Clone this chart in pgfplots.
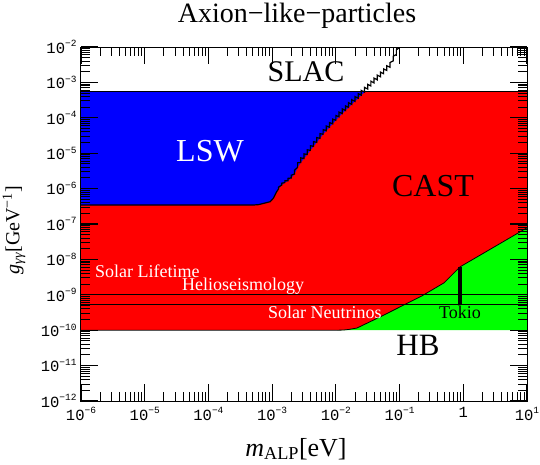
\documentclass[border=0pt]{standalone}
\usepackage{fontspec}
\setmainfont{Liberation Serif}
\newfontfamily\tickfont{Liberation Mono}
\usepackage{pgfplots}
\pgfplotsset{compat=1.18}
\newcommand{\tkl}[1]{{\fontsize{15.5}{15.5}\selectfont\tickfont 10\raisebox{6.5pt}{\fontsize{9.5}{9.5}\selectfont #1}}}
\definecolor{pr}{RGB}{255,0,0}
\definecolor{pb}{RGB}{0,0,255}
\definecolor{pg}{RGB}{0,255,0}
\begin{document}
\begin{tikzpicture}
\useasboundingbox (0pt,0pt) rectangle (540pt,464pt);
\begin{axis}[
  at={(81pt,63pt)}, anchor=south west,
  scale only axis, width=446pt, height=354pt,
  xmode=log, ymode=log,
  xmin=1e-6, xmax=10, ymin=1e-12, ymax=1e-2,
  axis on top,
  axis line style={line width=1pt},
  major tick style={line width=1.2pt, draw=black},
  minor tick style={line width=1pt, draw=black},
  major tick length=17pt, minor tick length=9pt,
  tick align=inside,
  xtick={1e-6,1e-5,1e-4,1e-3,1e-2,1e-1,1,10},
  xticklabels={\tkl{−6},\tkl{−5},\tkl{−4},\tkl{−3},\tkl{−2},\tkl{−1},{\fontsize{15.5}{15.5}\selectfont\tickfont 1},\tkl{1}},
  ytick={1e-12,1e-11,1e-10,1e-9,1e-8,1e-7,1e-6,1e-5,1e-4,1e-3,1e-2},
  yticklabels={\tkl{−12},\tkl{−11},\tkl{−10},\tkl{−9},\tkl{−8},\tkl{−7},\tkl{−6},\tkl{−5},\tkl{−4},\tkl{−3},\tkl{−2}},
  xticklabel style={yshift=-3pt},
  yticklabel style={xshift=-1pt},
]
% CAST
\addplot[draw=none, fill=pr] coordinates {(1e-6,1e-10) (10,1e-10) (10,5.71e-4) (1e-6,5.71e-4)} -- cycle;
% green region
\addplot[draw=none, fill=pg] coordinates {(1.047e-2,1e-10) (1.3e-2,1.01e-10) (1.585e-2,1.05e-10) (2.14e-2,1.15e-10) (5.01e-2,2.4e-10) (0.224,9.3e-10) (0.501,2.19e-9) (0.891,6.17e-9) (10,7.8e-8) (10,1e-10)} -- cycle;
\addplot[black, line width=0.8pt] coordinates {(1e-6,1e-10) (1.047e-2,1e-10) (1.3e-2,1.01e-10) (1.585e-2,1.05e-10) (2.14e-2,1.15e-10) (5.01e-2,2.4e-10) (0.224,9.3e-10) (0.501,2.19e-9) (0.891,6.17e-9) (10,7.8e-8)};
% LSW
\addplot[draw=none, fill=pb] coordinates {(1e-6,3.44e-7) (5.0e-4,3.44e-7) (6.03e-4,3.51e-7) (7.24e-4,3.80e-7) (9.33e-4,4.27e-7) (1.047e-3,5.37e-7) (1.175e-3,8.13e-7) (1.259e-3,9.77e-7) (1.413e-3,1.259e-6) (1.585e-3,1.479e-6) (1.778e-3,1.660e-6) (1.995e-3,1.995e-6) (2.239e-3,2.570e-6) (2.512e-3,3.981e-6) (2.818e-3,5.445e-6) (3.162e-3,7.079e-6) (3.548e-3,9.20e-6) (3.981e-3,1.200e-5) (4.467e-3,1.560e-5) (5.012e-3,2.028e-5) (5.623e-3,2.636e-5) (6.310e-3,3.428e-5) (7.079e-3,4.315e-5) (7.943e-3,5.408e-5) (8.913e-3,6.776e-5) (1.0e-2,8.511e-5) (1.122e-2,1.069e-4) (1.259e-2,1.318e-4) (1.413e-2,1.607e-4) (1.585e-2,1.963e-4) (1.778e-2,2.393e-4) (1.995e-2,2.924e-4) (2.239e-2,3.573e-4) (2.512e-2,4.355e-4) (2.818e-2,5.321e-4) (2.94e-2,5.71e-4) (1e-6,5.71e-4)} -- cycle;
% horizontal lines
\addplot[black, line width=0.8pt] coordinates {(1e-6,5.71e-4) (10,5.71e-4)};
\addplot[black, line width=0.8pt] coordinates {(1e-6,1e-9) (10,1e-9)};
\addplot[black, line width=0.8pt] coordinates {(1e-6,5.3e-10) (10,5.3e-10)};
% LSW / SLAC boundary
\addplot[black, line width=1.2pt, line join=miter] coordinates {
(1e-6,3.44e-7) (5.0e-4,3.44e-7) (6.03e-4,3.51e-7) (7.24e-4,3.80e-7) (9.33e-4,4.27e-7) (1.047e-3,5.37e-7) (1.175e-3,8.13e-7) (1.259e-3,9.77e-7) (1.259e-3,1.10e-6)
(1.413e-3,1.259e-6) (1.413e-3,1.42e-6)
(1.585e-3,1.479e-6) (1.585e-3,1.68e-6)
(1.778e-3,1.660e-6) (1.778e-3,1.95e-6)
(1.995e-3,1.995e-6) (1.995e-3,2.4e-6)
(2.239e-3,2.570e-6) (2.239e-3,3.3e-6)
(2.512e-3,3.981e-6) (2.512e-3,5.4e-6)
(2.818e-3,5.445e-6) (2.818e-3,7.4e-6)
(3.162e-3,7.079e-6) (3.162e-3,9.6e-6)
(3.548e-3,9.20e-6) (3.548e-3,1.25e-5)
(3.981e-3,1.200e-5) (3.981e-3,1.63e-5)
(4.467e-3,1.560e-5) (4.467e-3,2.12e-5)
(5.012e-3,2.028e-5) (5.012e-3,2.76e-5)
(5.623e-3,2.636e-5) (5.623e-3,3.58e-5)
(6.310e-3,3.428e-5) (6.310e-3,4.66e-5)
(7.079e-3,4.315e-5) (7.079e-3,5.87e-5)
(7.943e-3,5.408e-5) (7.943e-3,7.35e-5)
(8.913e-3,6.776e-5) (8.913e-3,9.2e-5)
(1.0e-2,8.511e-5) (1.0e-2,1.16e-4)
(1.122e-2,1.069e-4) (1.122e-2,1.45e-4)
(1.259e-2,1.318e-4) (1.259e-2,1.79e-4)
(1.413e-2,1.607e-4) (1.413e-2,2.18e-4)
(1.585e-2,1.963e-4) (1.585e-2,2.67e-4)
(1.778e-2,2.393e-4) (1.778e-2,3.25e-4)
(1.995e-2,2.924e-4) (1.995e-2,3.97e-4)
(2.239e-2,3.573e-4) (2.239e-2,4.86e-4)
(2.512e-2,4.355e-4) (2.512e-2,5.92e-4)
(2.818e-2,5.321e-4) (2.818e-2,7.23e-4)
(3.162e-2,6.486e-4) (3.162e-2,8.82e-4)
(3.548e-2,7.925e-4) (3.548e-2,1.08e-3)
(3.981e-2,9.683e-4) (3.981e-2,1.32e-3)
(4.467e-2,1.180e-3) (4.467e-2,1.60e-3)
(5.012e-2,1.442e-3) (5.012e-2,1.96e-3)
(5.623e-2,1.762e-3) (5.623e-2,2.40e-3)
(6.310e-2,2.173e-3) (6.310e-2,2.95e-3)
(7.079e-2,2.673e-3) (7.079e-2,3.64e-3)
(7.943e-2,4.046e-3) (7.943e-2,5.50e-3)
(8.913e-2,6.124e-3) (8.913e-2,8.3e-3)
(0.1016,1e-2)};
% Tokio
\addplot[black, line width=3.5pt] coordinates {(0.89,5.3e-10) (0.89,6.17e-9)};
% tick marks (axis decoration)
\pgfplotsinvokeforeach{1e-6,1e-5,1e-4,1e-3,1e-2,1e-1,1,10}{
  \draw[black, line width=1.2pt] (axis cs:#1,1e-12) -- ++(0pt,17pt);
  \draw[black, line width=1.2pt] (axis cs:#1,1e-2) -- ++(0pt,-17pt);
}
\pgfplotsinvokeforeach{2e-6,3e-6,4e-6,5e-6,6e-6,7e-6,8e-6,9e-6,2e-5,3e-5,4e-5,5e-5,6e-5,7e-5,8e-5,9e-5,2e-4,3e-4,4e-4,5e-4,6e-4,7e-4,8e-4,9e-4,2e-3,3e-3,4e-3,5e-3,6e-3,7e-3,8e-3,9e-3,2e-2,3e-2,4e-2,5e-2,6e-2,7e-2,8e-2,9e-2,0.2,0.3,0.4,0.5,0.6,0.7,0.8,0.9,2,3,4,5,6,7,8,9}{
  \draw[black, line width=1pt] (axis cs:#1,1e-12) -- ++(0pt,9pt);
  \draw[black, line width=1pt] (axis cs:#1,1e-2) -- ++(0pt,-9pt);
}
\pgfplotsinvokeforeach{1e-12,1e-11,1e-10,1e-9,1e-8,1e-7,1e-6,1e-5,1e-4,1e-3,1e-2}{
  \draw[black, line width=1.2pt] (axis cs:1e-6,#1) -- ++(17pt,0pt);
  \draw[black, line width=1.2pt] (axis cs:10,#1) -- ++(-17pt,0pt);
}
\pgfplotsinvokeforeach{2e-12,3e-12,4e-12,5e-12,6e-12,7e-12,8e-12,9e-12,2e-11,3e-11,4e-11,5e-11,6e-11,7e-11,8e-11,9e-11,2e-10,3e-10,4e-10,5e-10,6e-10,7e-10,8e-10,9e-10,2e-9,3e-9,4e-9,5e-9,6e-9,7e-9,8e-9,9e-9,2e-8,3e-8,4e-8,5e-8,6e-8,7e-8,8e-8,9e-8,2e-7,3e-7,4e-7,5e-7,6e-7,7e-7,8e-7,9e-7,2e-6,3e-6,4e-6,5e-6,6e-6,7e-6,8e-6,9e-6,2e-5,3e-5,4e-5,5e-5,6e-5,7e-5,8e-5,9e-5,2e-4,3e-4,4e-4,5e-4,6e-4,7e-4,8e-4,9e-4,2e-3,3e-3,4e-3,5e-3,6e-3,7e-3,8e-3,9e-3}{
  \draw[black, line width=1pt] (axis cs:1e-6,#1) -- ++(9pt,0pt);
  \draw[black, line width=1pt] (axis cs:10,#1) -- ++(-9pt,0pt);
}
\end{axis}
% texts
\node[font=\fontsize{28}{30}\selectfont, anchor=base] at (297pt,441pt) {Axion−like−particles};
\node[font=\fontsize{30}{32}\selectfont] at (306pt,392pt) {SLAC};
\node[font=\fontsize{32}{34}\selectfont, text=white] at (210pt,313pt) {LSW};
\node[font=\fontsize{32}{34}\selectfont] at (433pt,278pt) {CAST};
\node[font=\fontsize{31}{33}\selectfont] at (418pt,119pt) {HB};
\node[font=\fontsize{18}{20}\selectfont, text=white, anchor=west, inner sep=0pt] at (95pt,193pt) {Solar Lifetime};
\node[font=\fontsize{18}{20}\selectfont, text=white, anchor=west, inner sep=0pt] at (182pt,178pt) {Helioseismology};
\node[font=\fontsize{18}{20}\selectfont, text=white, anchor=west, inner sep=0pt] at (268pt,152pt) {Solar Neutrinos};
\node[font=\fontsize{18}{20}\selectfont, inner sep=0pt] at (460pt,152pt) {Tokio};
\node[font=\fontsize{26}{28}\selectfont] at (296pt,15pt) {{\itshape m}\textsubscript{ALP}[eV]};
\node[font=\fontsize{20}{22}\selectfont, rotate=90] at (14pt,234pt) {{\itshape g}\textsubscript{\itshape γγ}[GeV\textsuperscript{−1}]};
\end{tikzpicture}
\end{document}
